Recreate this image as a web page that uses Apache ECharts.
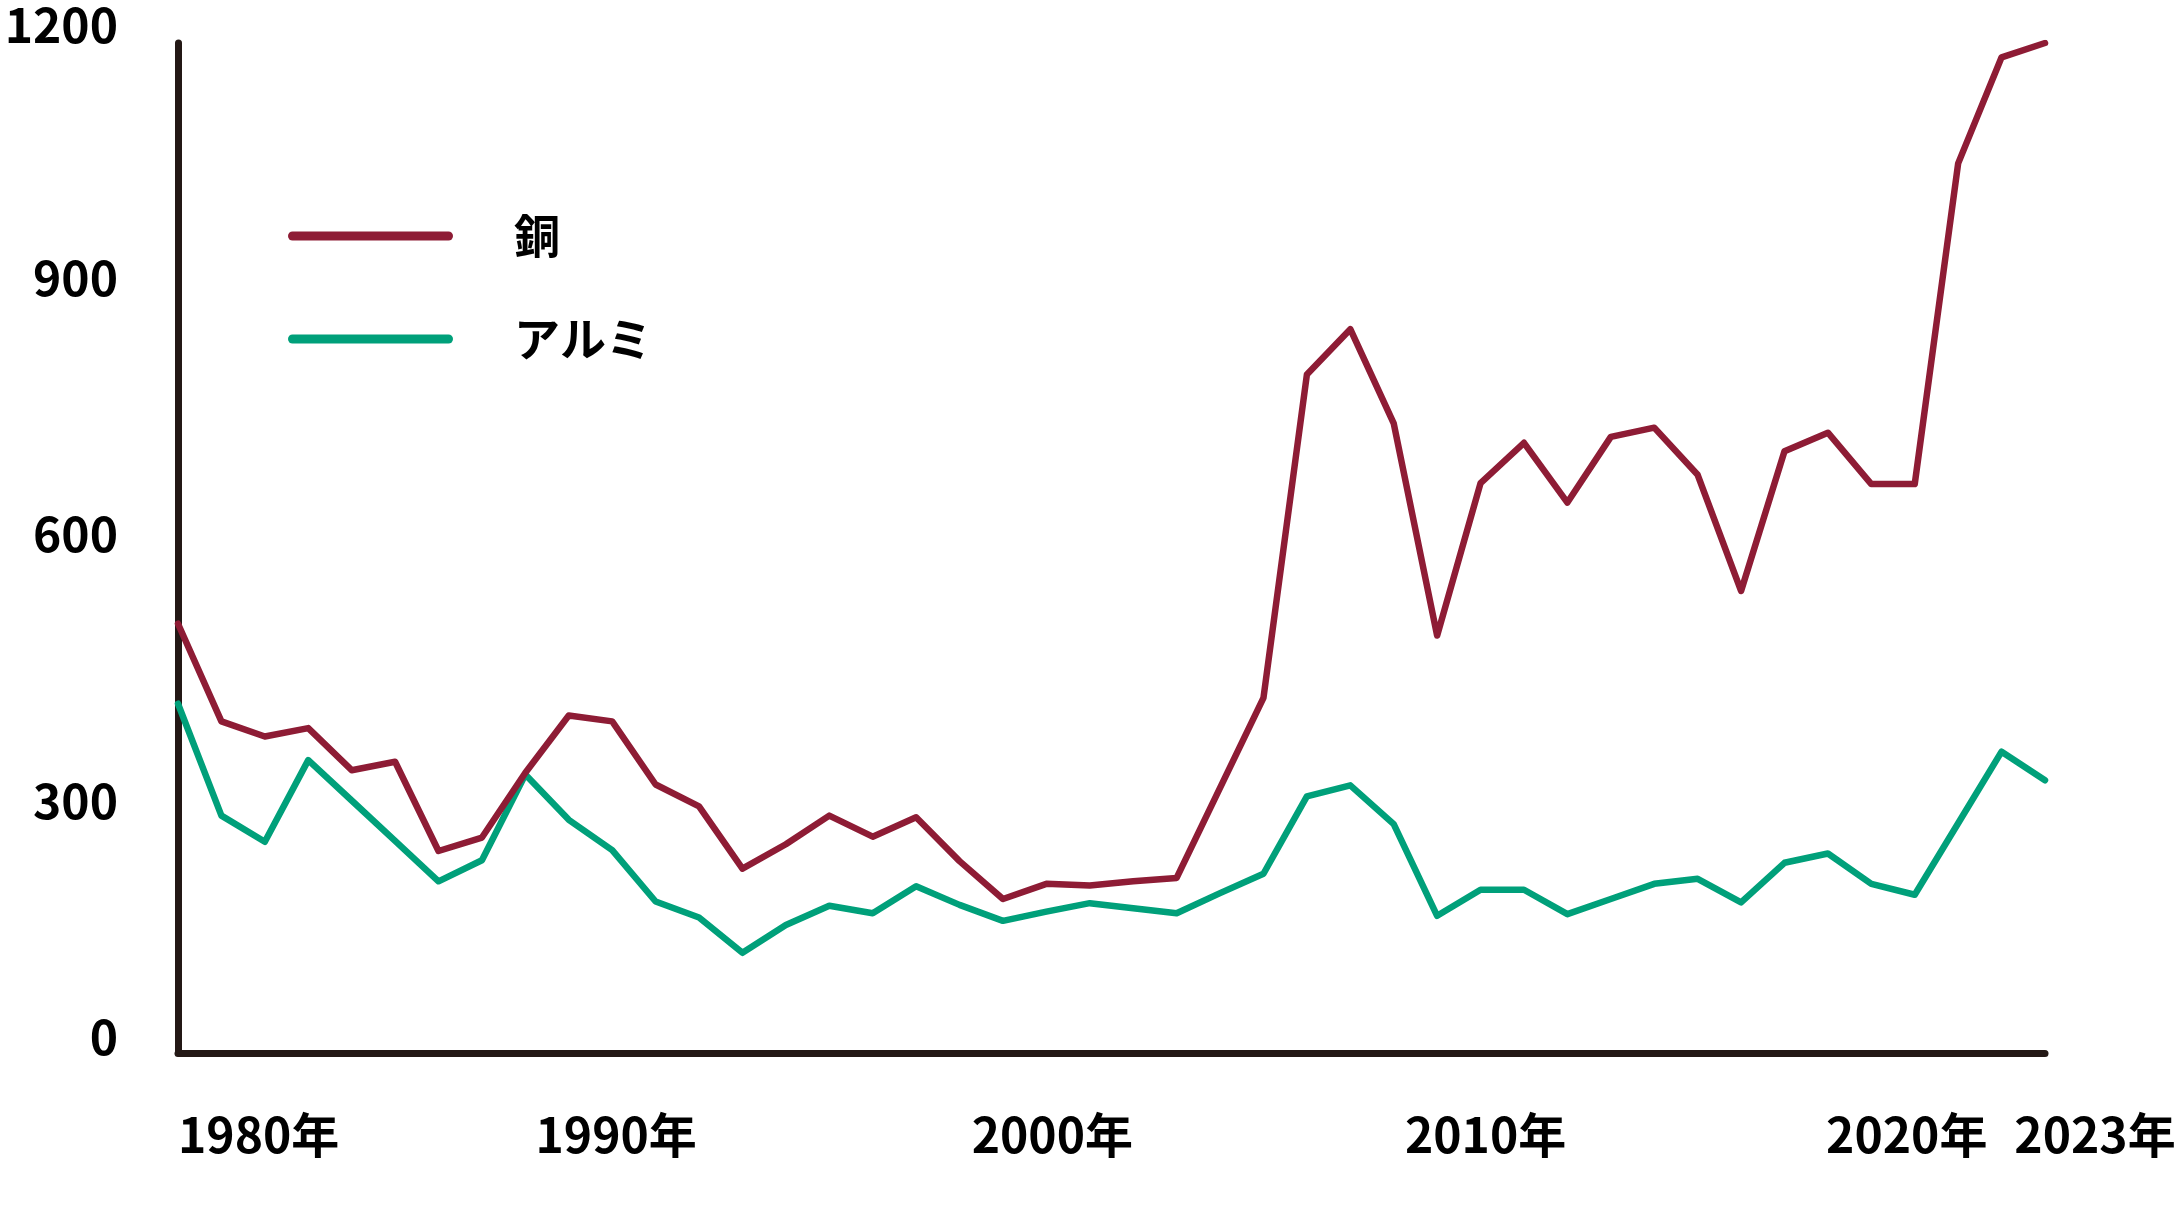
<!DOCTYPE html>
<html>
<head>
<meta charset="utf-8">
<script src="https://cdn.jsdelivr.net/npm/echarts@6/dist/echarts.min.js"></script>
<style>
  html, body { margin: 0; padding: 0; background: #ffffff; }
  #chart { width: 2175px; height: 1206px; }
</style>
</head>
<body>
<div id="chart"></div>
<script>
// ---- Data ----
const years = [];
for (let y = 1980; y <= 2023; y++) years.push(String(y));

const seriesNames = ['銅', 'アルミ'];

const copper = [
  510, 394, 376, 386, 336, 346, 240, 256, 333, 401,
  394, 319, 293, 219, 248, 282, 257, 280, 228, 183,
  201, 199, 204, 208, 315, 422, 806, 860, 748, 496,
  677, 725, 654, 732, 743, 687, 549, 715, 737, 676,
  676, 1057, 1183, 1200
];

const aluminium = [
  415, 282, 251, 348, 300, 252, 204, 229, 331, 277,
  241, 180, 161, 119, 152, 175, 166, 198, 176, 157,
  168, 178, 172, 166, 190, 213, 305, 318, 272, 163,
  194, 194, 165, 183, 201, 207, 179, 226, 237, 201,
  188, 273, 358, 324
];

const xLabelYears = ['1980', '1990', '2000', '2010', '2020', '2023'];
const yTicks = [0, 300, 600, 900, 1200];

// ---- Styling ----
const FONT = '"Noto Sans CJK JP", "Noto Sans CJK SC", sans-serif';
const RED = '#8E1C35';
const GREEN = '#00A07A';
const AXIS = '#231815';
const capsule = 'path://M4.5,0 L160.5,0 A4.5,4.5 0 0 1 160.5,9 L4.5,9 A4.5,4.5 0 0 1 4.5,0 Z';

const chart = echarts.init(document.getElementById('chart'), null, { renderer: 'canvas' });

const yRich = {};
const yShift = { 0: 32, 300: 0, 600: 28, 900: 36, 1200: 36 };
yTicks.forEach(v => {
  yRich['y' + v] = {
    fontFamily: FONT, fontSize: 48, fontWeight: 'bold', color: '#000',
    padding: [0, 0, yShift[v], 0]
  };
});

// horizontal nudges of x labels (px, + = right)
const xShift = { '1980': 0, '1990': 4, '2000': 6, '2010': 5, '2020': -8, '2023': 100 };
const xRich = {};
xLabelYears.forEach(y => {
  const s = xShift[y];
  xRich['x' + y] = {
    fontFamily: FONT, fontSize: 48, fontWeight: 'bold', color: '#000',
    padding: s >= 0 ? [0, 0, 0, y === '2023' ? s : 2 * s] : [0, -2 * s, 0, 0]
  };
});

chart.setOption({
  animation: false,
  backgroundColor: '#ffffff',
  grid: { left: 178, right: 130, top: 43, bottom: 153, containLabel: false, outerBoundsMode: 'none' },
  legend: {
    orient: 'vertical',
    left: 283,
    top: 206,
    itemWidth: 165,
    itemHeight: 9,
    itemGap: 53,
    icon: capsule,
    data: seriesNames,
    textStyle: {
      fontFamily: FONT, fontSize: 46, fontWeight: 'bold', color: '#000',
      lineHeight: 50, padding: [0, 0, 0, 56]
    }
  },
  xAxis: {
    type: 'category',
    data: years,
    boundaryGap: false,
    axisLine: { show: true, lineStyle: { color: AXIS, width: 7, cap: 'round' } },
    axisTick: { show: false },
    splitLine: { show: false },
    axisLabel: {
      interval: (i, v) => xLabelYears.indexOf(v) >= 0,
      margin: 58,
      alignMinLabel: 'left',
      fontFamily: FONT, fontSize: 48, fontWeight: 'bold', color: '#000',
      formatter: v => '{x' + v + '|' + v + '年}',
      rich: xRich
    }
  },
  yAxis: {
    type: 'value',
    min: 0,
    max: 1200,
    interval: 300,
    axisLine: { show: true, lineStyle: { color: AXIS, width: 7, cap: 'round' } },
    axisTick: { show: false },
    splitLine: { show: false },
    axisLabel: {
      margin: 60,
      fontFamily: FONT, fontSize: 48, fontWeight: 'bold', color: '#000',
      formatter: v => '{y' + v + '|' + v + '}',
      rich: yRich
    }
  },
  series: [
    {
      name: seriesNames[0], type: 'line', data: copper, symbol: 'none',
      itemStyle: { color: RED },
      lineStyle: { color: RED, width: 6.5, join: 'round', cap: 'round' },
      z: 3
    },
    {
      name: seriesNames[1], type: 'line', data: aluminium, symbol: 'none',
      itemStyle: { color: GREEN },
      lineStyle: { color: GREEN, width: 6.5, join: 'round', cap: 'round' },
      z: 2
    }
  ]
});
</script>
</body>
</html>
